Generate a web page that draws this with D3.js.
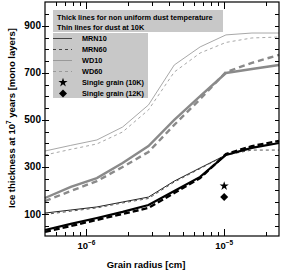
<!DOCTYPE html>
<html>
<head>
<meta charset="utf-8">
<script src="https://cdn.jsdelivr.net/npm/d3@7"></script>
<style>
  body { margin: 0; background: #fff; }
  text { font-family: "Liberation Sans", Arial, sans-serif; font-weight: bold; fill: #000; }
</style>
</head>
<body>
<div id="chart"></div>
<script>
// grain radius [cm] of each computed point
const radius = [5e-7, 7.7e-7, 1.19e-6, 1.83e-6, 2.82e-6, 4.34e-6, 6.69e-6, 1.03e-5, 1.59e-5, 2.5e-5];

// thin lines: dust at 10K
const wd10Thin = [368, 392, 415, 470, 564, 734, 811, 862, 870, 870];
const wd60Thin = [351, 375, 398, 449, 543, 704, 785, 830, 849, 853];
const mrn10Thin = [104, 117, 130, 151, 172, 240, 296, 351, 385, 402];
const mrn60Thin = [98, 112, 126, 147, 166, 236, 293, 351, 372, 372];

// thick lines: non uniform dust temperature
const wd10Thick = [168, 215, 253, 317, 389, 500, 602, 700, 717, 734];
const wd60Thick = [155, 198, 240, 300, 364, 479, 589, 704, 743, 777];
const mrn10Thick = [32, 58, 83, 109, 138, 198, 258, 351, 381, 402];
const mrn60Thick = [24, 49, 75, 100, 126, 189, 253, 355, 389, 411];

// single grain points
const singleGrain = [
  { r: 1e-5, v: 219, shape: "star" },
  { r: 1e-5, v: 172, shape: "diamond" }
];

const yTickLabels = [100, 300, 500, 700, 900];
const xTickLabels = [1e-6, 1e-5];

const width = 281, height = 273;
const margin = { left: 45, right: 2, top: 2, bottom: 37 };

const svg = d3.select("#chart").append("svg")
  .attr("width", width)
  .attr("height", height);

const x = d3.scaleLog()
  .domain([5e-7, 2.5e-5])
  .range([margin.left, width - margin.right]);

const y = d3.scaleLinear()
  .domain([6.4, 1002])
  .range([height - margin.bottom, margin.top]);

const x0 = x.range()[0], x1 = x.range()[1];
const y0 = y.range()[0], y1 = y.range()[1];

// series list (styles kept here, data above)
const series = [
  { data: wd10Thin, color: "#a8a8a8", w: 1, dash: null },
  { data: wd60Thin, color: "#a8a8a8", w: 1, dash: "3,3" },
  { data: wd10Thick, color: "#8a8a8a", w: 2.4, dash: null },
  { data: wd60Thick, color: "#8a8a8a", w: 2.4, dash: "6,4" },
  { data: mrn10Thin, color: "#222", w: 1, dash: null },
  { data: mrn60Thin, color: "#555", w: 1, dash: "3,3" },
  { data: mrn60Thick, color: "#000", w: 2.4, dash: "6,3" },
  { data: mrn10Thick, color: "#000", w: 2.2, dash: null }
];

const line = d3.line()
  .x(d => x(d[0]))
  .y(d => y(d[1]));

const plot = svg.append("g");
series.forEach(s => {
  plot.append("path")
    .attr("d", line(radius.map((r, i) => [r, s.data[i]])))
    .attr("fill", "none")
    .attr("stroke", s.color)
    .attr("stroke-width", s.w)
    .attr("stroke-dasharray", s.dash);
});

plot.selectAll(".pt").data(singleGrain).enter().append("path")
  .attr("transform", d => `translate(${x(d.r)},${y(d.v)})` + (d.shape == "diamond" ? " rotate(45)" : ""))
  .attr("d", d => d3.symbol().type(d.shape == "star" ? d3.symbolStar : d3.symbolSquare).size(d.shape == "star" ? 26 : 32)())
  .attr("fill", "#000");

// ticks, all four sides
const ticks = svg.append("g").attr("stroke", "#000").attr("stroke-width", 1);
const yMinor = d3.range(50, 1000, 50);
yMinor.forEach(v => {
  const major = yTickLabels.includes(v);
  const py = Math.round(y(v)) + 0.5;
  ticks.append("line").attr("x1", x0 - (major ? 3 : 0)).attr("x2", x0 + 4).attr("y1", py).attr("y2", py);
  ticks.append("line").attr("x1", x1 - 4).attr("x2", x1).attr("y1", py).attr("y2", py);
});
const xMinor = x.ticks().filter(t => t > x.domain()[0] && t < x.domain()[1]);
xMinor.forEach(t => {
  const major = xTickLabels.some(m => Math.abs(m - t) / m < 1e-6);
  const px = Math.round(x(t)) + 0.5;
  const len = major ? 7 : 4;
  ticks.append("line").attr("x1", px).attr("x2", px).attr("y1", y0).attr("y2", y0 - len);
  ticks.append("line").attr("x1", px).attr("x2", px).attr("y1", y1).attr("y2", y1 + len);
});

svg.append("rect")
  .attr("x", x0).attr("y", y1)
  .attr("width", x1 - x0).attr("height", y0 - y1)
  .attr("fill", "none").attr("stroke", "#000").attr("stroke-width", 1.2);

// tick labels
svg.selectAll(".ylab").data(yTickLabels).enter().append("text")
  .attr("x", x0 - 4)
  .attr("y", d => y(d) + 3.5)
  .attr("text-anchor", "end")
  .attr("font-size", 10)
  .text(d => d);

const xl = svg.selectAll(".xlab").data(xTickLabels).enter().append("text")
  .attr("x", d => x(d) - 9)
  .attr("y", y0 + 13)
  .attr("font-size", 9.5);
xl.append("tspan").text("10");
xl.append("tspan").attr("dy", -4).attr("font-size", 6.5).text(d => "\u2212" + Math.round(-Math.log10(d)));

// axis titles
svg.append("text")
  .attr("x", 146).attr("y", 268)
  .attr("text-anchor", "middle")
  .attr("font-size", 9.5)
  .text("Grain radius [cm]");

const yt = svg.append("text")
  .attr("transform", "translate(15,118) rotate(-90)")
  .attr("text-anchor", "middle")
  .attr("font-size", 9.5);
yt.append("tspan").text("Ice thickness at 10");
yt.append("tspan").attr("dy", -4).attr("font-size", 6.5).text("7");
yt.append("tspan").attr("dy", 4).text(" years [mono layers]");

// legend
const lg = svg.append("g");
lg.append("rect").attr("x", 53).attr("y", 10).attr("width", 170).attr("height", 22).attr("fill", "#c8c8c8");
lg.append("rect").attr("x", 53).attr("y", 33).attr("width", 95).attr("height", 65).attr("fill", "#c8c8c8");
lg.append("text").attr("x", 57).attr("y", 19.5).attr("font-size", 7.3).text("Thick lines for non uniform dust temperature");
lg.append("text").attr("x", 57).attr("y", 29.5).attr("font-size", 7.3).text("Thin lines for dust at 10K");

const legendItems = [
  { name: "MRN10", color: "#444", dash: null },
  { name: "MRN60", color: "#444", dash: "3,3" },
  { name: "WD10", color: "#999", dash: null },
  { name: "WD60", color: "#999", dash: "3,3" },
  { name: "Single grain (10K)", sym: d3.symbolStar, size: 26 },
  { name: "Single grain (12K)", sym: d3.symbolSquare, size: 32, rot: 45 }
];
legendItems.forEach((d, i) => {
  const cy = 38.5 + i * 11;
  if (d.sym) {
    lg.append("path")
      .attr("transform", `translate(63,${cy})` + (d.rot ? ` rotate(${d.rot})` : ""))
      .attr("d", d3.symbol().type(d.sym).size(d.size)())
      .attr("fill", "#000");
  } else {
    lg.append("line").attr("x1", 53).attr("x2", 72).attr("y1", cy).attr("y2", cy)
      .attr("stroke", d.color).attr("stroke-width", 1).attr("stroke-dasharray", d.dash);
  }
  lg.append("text").attr("x", 82).attr("y", cy + 2.7).attr("font-size", 7.3).text(d.name);
});
</script>
</body>
</html>
